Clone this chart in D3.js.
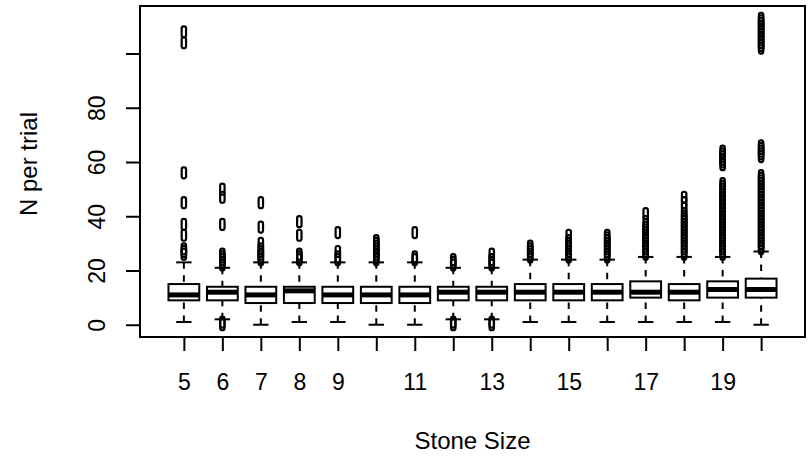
<!DOCTYPE html>
<html>
<head>
<meta charset="utf-8">
<script src="https://cdn.jsdelivr.net/npm/d3@7"></script>
<style>
  body { margin: 0; background: #fff; }
  svg { display: block; }
  text { font-family: "Liberation Sans", Arial, Helvetica, sans-serif; fill: #000; }
</style>
</head>
<body>
<svg id="chart" width="808" height="465"></svg>
<script>
// Stone size categories and the five-number summary of N per trial for each
const stoneSizes   = [5, 6, 7, 8, 9, 10, 11, 12, 13, 14, 15, 16, 17, 18, 19, 20];
const lowerWhisker = [1, 2, 0, 1, 1, 0, 0, 2, 2, 1, 1, 1, 1, 1, 1, 0];
const lowerQuartile= [9, 9, 8, 8, 8, 8, 8, 9, 9, 9, 9, 9, 10, 9, 10, 10];
const medians      = [11, 12, 11, 12.5, 11, 11, 11, 12, 12, 12, 12, 12, 12, 12, 13, 13];
const upperQuartile= [15, 14, 14, 14, 14, 14, 14, 14, 14, 15, 15, 15, 16, 15, 16, 17];
const upperWhisker = [23, 21, 23, 23, 23, 23, 23, 21, 21, 24, 24, 24, 25, 25, 25, 27];

// Values beyond the whiskers, one list per stone size
const outliers = [
  [108, 104, 56, 45, 37, 33, 28, 27, 26],
  [50, 47, 37, 26, 25, 24, 23, 22, 1, 0],
  [45, 36, 30, 28, 27, 26, 25, 24],
  [38, 33, 26, 25, 24],
  [34, 27, 25, 24],
  [31, 30, 29, 28, 27, 26, 25, 24],
  [34, 25, 24],
  [24, 23, 22, 1, 0],
  [26, 24, 23, 22, 1, 0],
  [29, 28, 27, 26, 25],
  [33, 31, 30, 29, 28, 27, 26, 25],
  [33, 32, 31, 30, 29, 28, 27, 26, 25],
  [41, 38, 36, 35, 34, 33, 32, 31, 30, 29, 28, 27, 26],
  [47, 45, 43, 41, 40, 39, 38, 37, 36, 35, 34, 33, 32, 31, 30, 29, 28, 27, 26],
  [64, 63, 62, 61, 60, 59, 52, 51, 50, 49, 48, 47, 46, 45, 44, 43, 42, 41, 40,
   39, 38, 37, 36, 35, 34, 33, 32, 31, 30, 29, 28, 27, 26],
  [113, 112, 111, 110, 109, 108, 107, 106, 105, 104, 103, 102, 66, 65, 64, 63, 62,
   55, 54, 53, 52, 51, 50, 49, 48, 47, 46, 45, 44, 43, 42, 41, 40, 39, 38, 37, 36,
   35, 34, 33, 32, 31, 30, 29, 28]
];

// Axis ticks and the labels printed beside them
const yTicks       = [0, 20, 40, 60, 80, 100];
const yTickLabels  = ["0", "20", "40", "60", "80", ""];
const xTickLabels  = ["5", "6", "7", "8", "9", "", "11", "", "13", "", "15", "", "17", "", "19", ""];

const xTitle = "Stone Size";
const yTitle = "N per trial";

const W = 808, H = 465;
const margin = { left: 140, right: 3, top: 6, bottom: 128 };
const plotL = margin.left, plotR = W - margin.right;
const plotT = margin.top, plotB = H - margin.bottom;

const svg = d3.select("#chart");
svg.append("rect").attr("width", W).attr("height", H).attr("fill", "#fff");

// x: box positions 1..n with the usual 4% padding around [0.5, n + 0.5]
const n = stoneSizes.length;
const xPad = n * 0.04;
const x = d3.scaleLinear().domain([0.5 - xPad, n + 0.5 + xPad]).range([plotL, plotR]);

// y: full data range padded by 4%
const allVals = [].concat(lowerWhisker, upperWhisker, ...outliers);
const [yMin, yMax] = d3.extent(allVals);
const yPad = (yMax - yMin) * 0.04;
const y = d3.scaleLinear().domain([yMin - yPad, yMax + yPad]).range([plotB, plotT]);

const boxWidth = 0.8;                 // in category units
const stapleWidth = boxWidth * 0.5;
const unit = x(1) - x(0);

const g = svg.append("g");

stoneSizes.forEach((s, i) => {
  const cx = x(i + 1);
  const grp = g.append("g");

  // dashed whiskers, drawn from the whisker end toward the box
  [[lowerWhisker[i], lowerQuartile[i]], [upperWhisker[i], upperQuartile[i]]].forEach(([a, b]) => {
    grp.append("line")
      .attr("x1", cx).attr("x2", cx)
      .attr("y1", y(a)).attr("y2", y(b))
      .attr("stroke", "#000").attr("stroke-width", 2)
      .attr("stroke-dasharray", "6.5,6.5");
  });

  // staples
  [lowerWhisker[i], upperWhisker[i]].forEach(v => {
    grp.append("line")
      .attr("x1", cx - stapleWidth / 2 * unit).attr("x2", cx + stapleWidth / 2 * unit)
      .attr("y1", y(v)).attr("y2", y(v))
      .attr("stroke", "#000").attr("stroke-width", 2);
  });

  // box
  grp.append("rect")
    .attr("x", cx - boxWidth / 2 * unit)
    .attr("width", boxWidth * unit)
    .attr("y", y(upperQuartile[i]))
    .attr("height", y(lowerQuartile[i]) - y(upperQuartile[i]))
    .attr("fill", "#fff").attr("stroke", "#000").attr("stroke-width", 2);

  // median
  grp.append("line")
    .attr("x1", cx - boxWidth / 2 * unit).attr("x2", cx + boxWidth / 2 * unit)
    .attr("y1", y(medians[i])).attr("y2", y(medians[i]))
    .attr("stroke", "#000").attr("stroke-width", 5);

  // outlying points
  grp.selectAll("rect.out")
    .data(outliers[i])
    .enter().append("rect")
    .attr("class", "out")
    .attr("x", cx - 2.2).attr("width", 4.4)
    .attr("y", d => y(d) - 5.5).attr("height", 11)
    .attr("rx", 2).attr("ry", 2)
    .attr("fill", "none").attr("stroke", "#000").attr("stroke-width", 2.2);
});

// plot frame
svg.append("rect")
  .attr("x", plotL).attr("y", plotT)
  .attr("width", plotR - plotL).attr("height", plotB - plotT)
  .attr("fill", "none").attr("stroke", "#000").attr("stroke-width", 2);

const tickFont = 23, titleFont = 24;

// left axis
const yAxis = d3.axisLeft(y)
  .tickValues(yTicks)
  .tickFormat((d, i) => yTickLabels[i])
  .tickSize(14).tickPadding(0);
const ya = svg.append("g").attr("transform", `translate(${plotL},0)`).call(yAxis);
ya.select(".domain").remove();
ya.selectAll(".tick line").attr("stroke", "#000").attr("stroke-width", 2);
ya.selectAll(".tick text")
  .attr("x", null).attr("dy", null)
  .attr("transform", "translate(-35,0) rotate(-90)")
  .attr("text-anchor", "middle")
  .style("font-size", tickFont + "px")
  .style("font-family", "'Liberation Sans', Arial, sans-serif");

// bottom axis
const xAxis = d3.axisBottom(x)
  .tickValues(d3.range(1, n + 1))
  .tickFormat((d, i) => xTickLabels[i])
  .tickSize(14).tickPadding(0);
const xa = svg.append("g").attr("transform", `translate(0,${plotB})`).call(xAxis);
xa.select(".domain").remove();
xa.selectAll(".tick line").attr("stroke", "#000").attr("stroke-width", 2);
xa.selectAll(".tick text")
  .attr("y", 53).attr("dy", null)
  .style("font-size", tickFont + "px")
  .style("font-family", "'Liberation Sans', Arial, sans-serif");

// axis titles
svg.append("text")
  .attr("x", (plotL + plotR) / 2).attr("y", 449)
  .attr("text-anchor", "middle")
  .style("font-size", titleFont + "px")
  .text(xTitle);

svg.append("text")
  .attr("transform", `translate(37,164) rotate(-90)`)
  .attr("text-anchor", "middle")
  .style("font-size", titleFont + "px")
  .text(yTitle);
</script>
</body>
</html>
